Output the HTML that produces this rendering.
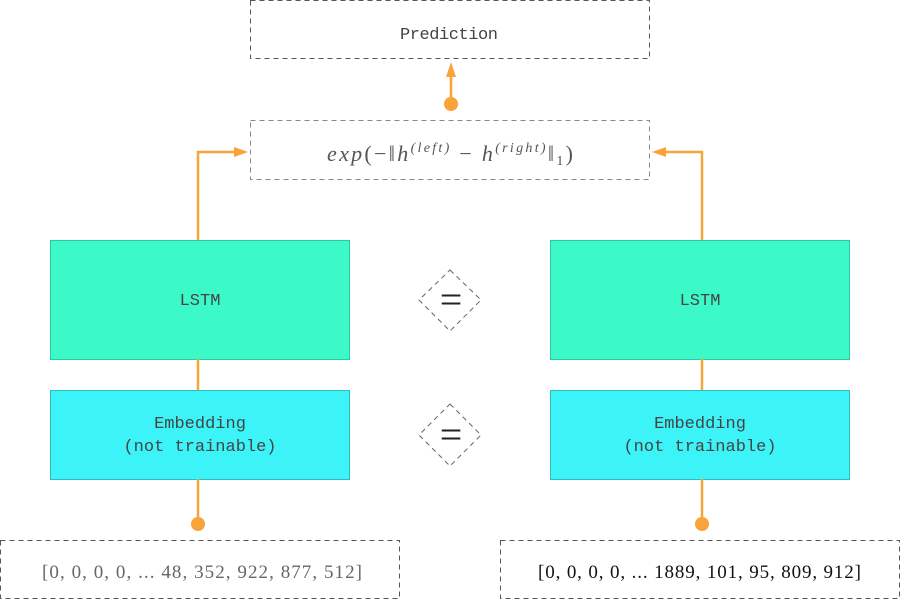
<!DOCTYPE html>
<html><head><style>body{margin:0;background:#fff}svg{display:block}</style></head><body>
<svg width="900" height="600" viewBox="0 0 900 600" xmlns="http://www.w3.org/2000/svg">
<g fill="none" stroke="#555" stroke-dasharray="5,4" stroke-width="1">
<rect x="250.5" y="0.5" width="399" height="58"/>
<rect x="250.5" y="120.5" width="399" height="59" stroke="#888"/>
<rect x="0.5" y="540.5" width="399" height="58"/>
<rect x="500.5" y="540.5" width="399" height="58"/>
<polygon points="450,270 481,300 450,331 419,300" stroke="#666"/>
<polygon points="450,404 481,435 450,466 419,435" stroke="#666"/>
</g>
<rect x="50.5" y="240.5" width="299" height="119" fill="#3cfac8" stroke="#2cc9a6"/>
<rect x="550.5" y="240.5" width="299" height="119" fill="#3cfac8" stroke="#2cc9a6"/>
<rect x="50.5" y="390.5" width="299" height="89" fill="#3cf3f7" stroke="#2cbcc4"/>
<rect x="550.5" y="390.5" width="299" height="89" fill="#3cf3f7" stroke="#2cbcc4"/>
<g stroke="#f9a33b" stroke-width="2.5" fill="none">
<polyline points="198,240 198,152 236,152"/>
<polyline points="702,240 702,152 664,152"/>
<line x1="451" y1="104" x2="451" y2="74"/>
<line x1="198" y1="359" x2="198" y2="390"/>
<line x1="702" y1="359" x2="702" y2="390"/>
<line x1="198" y1="479" x2="198" y2="523"/>
<line x1="702" y1="479" x2="702" y2="523"/>
</g>
<g fill="#f9a33b">
<polygon points="248,152 234,147 234,157"/>
<polygon points="652,152 666,147 666,157"/>
<polygon points="451,62 446,77 456,77"/>
<circle cx="451" cy="104" r="7"/>
<circle cx="198" cy="524" r="7"/>
<circle cx="702" cy="524" r="7"/>
</g>
<g font-family="'Liberation Serif', serif" fill="#444" font-size="17">
<text x="400" y="39" font-family="'Liberation Mono', monospace" font-size="17" textLength="98">Prediction</text>
<text x="327" y="161" fill="#555" font-size="22" textLength="246" lengthAdjust="spacing"><tspan font-style="italic">exp</tspan>(−‖<tspan font-style="italic">h</tspan><tspan font-size="14" dy="-9" font-style="italic">(left)</tspan><tspan dy="9"> − </tspan><tspan font-style="italic">h</tspan><tspan font-size="14" dy="-9" font-style="italic">(right)</tspan><tspan dy="9">‖</tspan><tspan font-size="14" dy="4">1</tspan><tspan dy="-4">)</tspan></text>
<g font-family="'Liberation Mono', monospace" font-size="17" text-anchor="middle">
<text x="200" y="305">LSTM</text>
<text x="700" y="305">LSTM</text>
<text x="200" y="428">Embedding</text>
<text x="200" y="451">(not trainable)</text>
<text x="700" y="428">Embedding</text>
<text x="700" y="451">(not trainable)</text>
</g>
<text x="42" y="578" fill="#666" font-size="19" textLength="320" lengthAdjust="spacing">[0, 0, 0, 0, ... 48, 352, 922, 877, 512]</text>
<text x="538" y="578" fill="#111" font-size="19" textLength="323" lengthAdjust="spacing">[0, 0, 0, 0, ... 1889, 101, 95, 809, 912]</text>
<text x="451" y="313" font-size="40" fill="#222" text-anchor="middle">=</text>
<text x="451" y="448" font-size="40" fill="#222" text-anchor="middle">=</text>
</g>
</svg>
</body></html>
